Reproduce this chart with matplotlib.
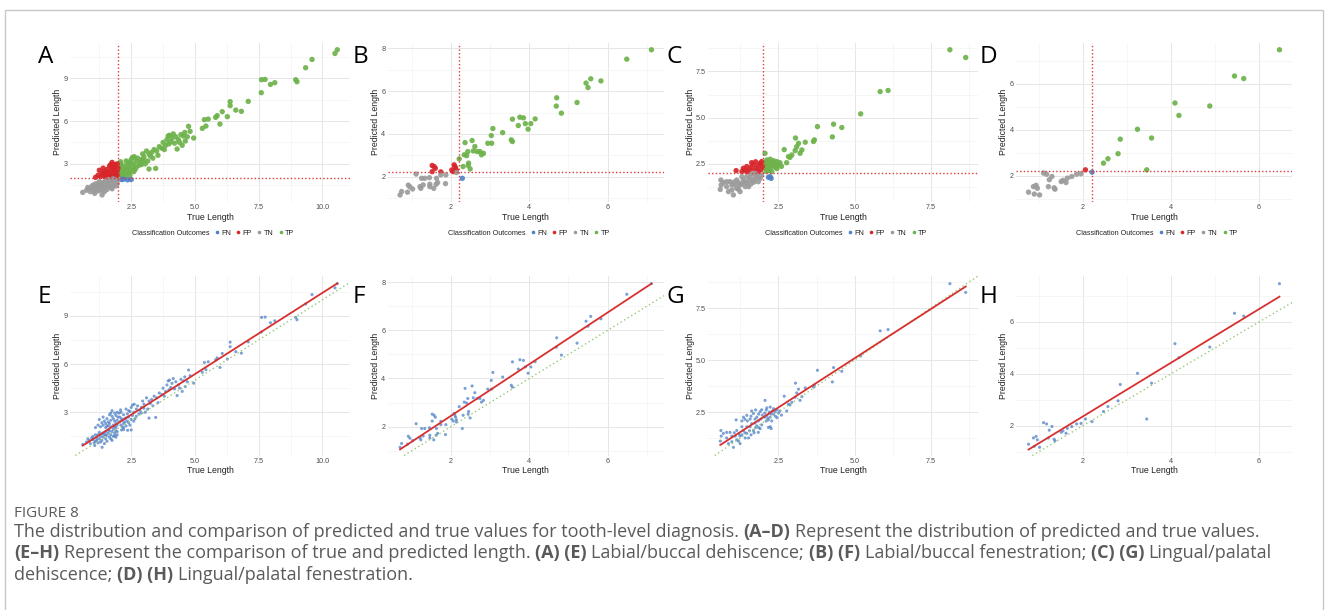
import numpy as np
import matplotlib
matplotlib.use("Agg")
import matplotlib.pyplot as plt
from matplotlib.lines import Line2D
from matplotlib.patches import Rectangle
from matplotlib.ticker import MultipleLocator, FormatStrFormatter

W, H = 1328, 610
DPI = 100

# (true length, predicted length)
# labial/buccal dehiscence -> panels A, E
LB_DEH = [
    (10.58, 11.0), (10.49, 10.74), (9.59, 10.32), (9.34, 9.74), (8.95, 8.9),
    (9.0, 8.76), (8.13, 8.69), (7.96, 8.57), (7.61, 8.9), (7.75, 8.92),
    (7.60, 7.99), (7.09, 7.38), (6.82, 6.68), (6.6, 6.77), (6.38, 7.36),
    (6.38, 7.08), (6.27, 6.31), (6.07, 6.66), (5.87, 6.38), (5.81, 6.26),
    (5.98, 5.79), (5.52, 6.14), (5.37, 6.1), (5.43, 5.65), (5.29, 5.49),
    (4.95, 4.81), (4.81, 5.28), (4.75, 5.63), (4.70, 4.9), (4.55, 4.95),
    (4.45, 5.05), (4.62, 4.6), (4.35, 4.7), (4.25, 4.9), (4.15, 5.1),
    (4.1, 4.8), (4.05, 4.55), (3.98, 4.4), (3.9, 4.7), (4.2, 4.45),
    (4.3, 4.04), (4.5, 4.3), (3.85, 4.3), (3.75, 4.5), (4.0, 5.0),
    (3.7, 4.1), (3.6, 4.2), (3.5, 3.9), (3.4, 4.0), (3.3, 3.8),
    (3.2, 3.7), (3.55, 3.6), (3.1, 3.9), (3.0, 3.5), (3.35, 3.4),
    (2.95, 3.7), (2.9, 3.3), (3.15, 3.2), (2.85, 3.1), (2.75, 3.4),
    (3.46, 2.68), (3.2, 2.64), (3.05, 3.0), (2.7, 3.2), (2.6, 3.0),
    (2.55, 2.8), (2.5, 3.3), (2.45, 3.05), (2.4, 2.7), (2.35, 2.9),
    (2.3, 3.2), (2.25, 2.6), (2.2, 2.85), (2.15, 2.5), (2.1, 3.0),
    (2.05, 2.7), (2.6, 2.45), (2.4, 2.35), (2.2, 2.3), (2.1, 2.2),
    (2.3, 2.15), (2.65, 2.6), (2.8, 2.9), (2.5, 2.55), (2.35, 2.45),
    (2.05, 2.4), (2.15, 2.1), (2.25, 2.4), (2.45, 2.2), (2.55, 3.45),
    (2.7, 2.75), (2.9, 2.95), (2.12, 2.6), (2.3, 2.65), (2.02, 2.95),
    (2.08, 3.15), (2.62, 3.5), (3.0, 3.25), (3.25, 3.55), (3.8, 4.0),
    (4.4, 4.5), (4.6, 5.2), (3.95, 4.95), (2.4, 3.1), (2.2, 2.05),
    (2.12, 1.9), (2.36, 1.88), (2.5, 1.9), (2.2, 1.92),
    (1.95, 3.0), (1.9, 2.8), (1.85, 2.95), (1.8, 2.6), (1.75, 2.75),
    (1.7, 2.5), (1.65, 2.85), (1.6, 2.4), (1.55, 2.6), (1.5, 2.3),
    (1.45, 2.45), (1.4, 2.2), (1.35, 2.35), (1.3, 2.1), (1.25, 2.55),
    (1.9, 2.3), (1.8, 2.2), (1.7, 2.1), (1.6, 2.15), (1.95, 2.5),
    (1.85, 2.1), (1.5, 2.05), (1.2, 2.2), (1.1, 2.05), (1.4, 2.7),
    (1.75, 3.1), (1.9, 2.05), (1.65, 2.3), (1.85, 2.45), (1.95, 2.2),
    (1.55, 2.15), (1.7, 2.95), (1.98, 2.7),
    (0.6, 1.0), (0.75, 1.15), (0.85, 1.25), (0.9, 1.05), (1.0, 1.3),
    (1.07, 0.93), (1.1, 1.2), (1.15, 1.4), (1.2, 1.1), (1.25, 1.35),
    (1.3, 1.5), (1.36, 0.82), (1.35, 1.25), (1.4, 1.45), (1.45, 1.6),
    (1.5, 1.35), (1.55, 1.55), (1.6, 1.7), (1.65, 1.45), (1.7, 1.6),
    (1.75, 1.8), (1.8, 1.5), (1.85, 1.7), (1.9, 1.85), (1.95, 1.6),
    (1.0, 1.5), (1.2, 1.6), (1.4, 1.7), (1.6, 1.9), (1.8, 1.95),
    (1.5, 1.8), (0.95, 1.4), (1.3, 1.15), (1.7, 1.35), (1.9, 1.45),
    (1.1, 1.6), (1.45, 1.05), (1.25, 1.75), (1.55, 1.2), (1.75, 1.25),
    (0.8, 1.35), (1.05, 1.1), (1.35, 1.65), (1.65, 1.85), (1.85, 1.55),
    (1.95, 1.8), (1.15, 1.25), (1.5, 1.6),
]

# labial/buccal fenestration -> panels B, F
LB_FEN = [
    (7.12, 7.94), (6.49, 7.5), (5.45, 6.38), (5.57, 6.58), (5.5, 6.17),
    (5.83, 6.48), (5.22, 5.47), (4.70, 5.69), (4.69, 5.30), (4.82, 4.97),
    (3.76, 4.78), (3.85, 4.75), (3.72, 4.39), (3.90, 4.48), (3.97, 4.22),
    (4.04, 4.48), (4.15, 4.70), (3.57, 4.69), (3.54, 3.72), (3.57, 3.64),
    (3.32, 4.06), (3.07, 4.25), (3.03, 3.92), (3.04, 3.56), (2.94, 3.56),
    (2.83, 3.09), (2.78, 3.02), (2.74, 3.17), (2.67, 3.17), (2.61, 3.41),
    (2.57, 3.2), (2.54, 3.69), (2.43, 3.17), (2.36, 3.59), (2.34, 3.02),
    (2.40, 2.98), (2.45, 2.63), (2.49, 2.36), (2.31, 2.47), (2.21, 2.83),
    (2.44, 2.52),
    (1.52, 2.52), (1.57, 2.47), (1.6, 2.39), (1.52, 2.23), (1.74, 2.22),
    (2.02, 2.31), (2.08, 2.55), (2.1, 2.47), (2.12, 2.39), (2.06, 2.23),
    (2.14, 2.28),
    (2.29, 1.92),
    (2.14, 2.19), (1.11, 2.12), (1.25, 1.92), (1.33, 1.92), (1.45, 1.95),
    (1.63, 1.92), (1.74, 2.08), (1.87, 2.08), (1.46, 1.64), (1.62, 1.64),
    (1.86, 1.67), (0.91, 1.60), (0.95, 1.52), (1.02, 1.42), (0.89, 1.27),
    (0.74, 1.30), (0.70, 1.14), (1.21, 1.53), (1.29, 1.61), (1.23, 1.45),
    (1.46, 1.53), (1.56, 1.45), (1.66, 1.72),
]

# lingual/palatal dehiscence -> panels C, G
LP_DEH = [
    (8.13, 8.68), (8.65, 8.26), (5.84, 6.41), (6.1, 6.47), (5.2, 5.2),
    (4.31, 4.64), (4.58, 4.46), (4.27, 3.95), (3.78, 4.51), (3.65, 3.7),
    (3.68, 3.79), (3.38, 3.66), (3.06, 3.89), (3.16, 3.6), (3.1, 3.42),
    (3.27, 3.24), (3.21, 3.06), (3.05, 3.21), (2.94, 2.97), (2.88, 2.84),
    (2.83, 2.88), (2.69, 3.26), (2.77, 2.55), (2.55, 2.55), (2.45, 2.61),
    (2.34, 2.66), (2.23, 2.74), (2.12, 2.70), (2.06, 3.06), (2.12, 2.34),
    (2.23, 2.25), (2.34, 2.39), (2.39, 2.52), (2.17, 2.12), (2.28, 2.07),
    (2.45, 2.23), (2.1, 2.07), (2.6, 2.35), (2.2, 2.5), (2.05, 2.45),
    (2.3, 2.55), (2.15, 2.2), (2.4, 2.3), (2.05, 2.25), (2.25, 2.4),
    (2.5, 2.45), (2.1, 2.6),
    (2.17, 1.76), (2.26, 1.70), (2.23, 1.79),
    (1.11, 2.12), (1.35, 2.25), (1.46, 2.34), (1.57, 2.16), (1.68, 2.43),
    (1.79, 2.25), (1.9, 2.52), (1.95, 2.61), (1.84, 2.07), (1.62, 2.55),
    (1.73, 2.16), (1.48, 2.07), (1.92, 2.16), (1.3, 2.07), (1.85, 2.4),
    (1.6, 2.3), (1.75, 2.6), (1.97, 2.35), (1.4, 2.15),
    (0.61, 1.61), (0.62, 1.34), (0.59, 1.1), (0.8, 1.25), (0.86, 0.98),
    (1.02, 0.8), (0.97, 1.07), (1.19, 1.1), (1.24, 1.34), (1.13, 1.61),
    (1.35, 1.61), (1.46, 1.47), (1.57, 1.79), (1.68, 1.61), (1.79, 1.83),
    (1.9, 1.7), (1.41, 1.25), (1.52, 1.25), (1.08, 1.34), (0.91, 1.52),
    (0.8, 1.52), (1.3, 1.79), (1.73, 1.97), (1.62, 1.94), (1.95, 1.88),
    (1.84, 1.52), (1.24, 0.98), (1.46, 1.79), (0.69, 1.47), (0.97, 1.34),
    (1.13, 1.16), (1.6, 1.4), (1.75, 1.75), (1.4, 1.5), (1.2, 1.45),
    (1.05, 1.5), (1.3, 1.4), (1.55, 1.6), (1.85, 1.75), (1.7, 1.5),
]

# lingual/palatal fenestration -> panels D, H
LP_FEN = [
    (6.46, 7.47), (5.44, 6.33), (5.65, 6.22), (4.88, 5.03), (4.09, 5.16),
    (4.18, 4.62), (3.24, 4.02), (3.56, 3.64), (2.85, 3.59), (2.80, 2.96),
    (2.57, 2.74), (2.47, 2.55), (3.45, 2.26),
    (2.06, 2.26),
    (2.21, 2.16),
    (0.77, 1.29), (0.90, 1.21), (1.02, 1.17), (0.88, 1.53), (0.94, 1.59),
    (0.97, 1.46), (1.11, 2.12), (1.18, 2.07), (1.24, 1.83), (1.30, 1.97),
    (1.22, 1.53), (1.37, 1.42), (1.35, 1.48), (1.51, 1.75), (1.55, 1.80),
    (1.65, 1.90), (1.62, 1.71), (1.75, 1.97), (1.86, 2.07), (1.96, 2.09),
]

THRESHOLDS = [2.0, 2.2, 2.0, 2.2]
OUTCOMES = ["FN", "FP", "TN", "TP"]
OUTCOME_COLORS = {"FN": "#4F81C7", "FP": "#D7262B", "TN": "#9B9B9B", "TP": "#6DB24A"}

TOP_LABELS = ["A", "B", "C", "D"]
BOTTOM_LABELS = ["E", "F", "G", "H"]

# layout, in pixels of the output picture
COL_X = [(70, 350), (387.5, 664), (708, 978), (1016, 1292)]
TOP_Y = (42.5, 202.2)
BOT_Y = (275.5, 455.5)
LABEL_X = [38, 353, 667, 980]
TICK_STEP = [(2.5, 3), (2, 2), (2.5, 2.5), (2, 2)]
TICK_FMT = [("%.1f", "%d"), ("%d", "%d"), ("%.1f", "%.1f"), ("%d", "%d")]

TICK_COLOR = "#4D4D4D"
TITLE_COLOR = "#222222"
PLOT_FONT = "Liberation Sans"


def px_axes(fig, x0, x1, y0, y1):
    return fig.add_axes([x0 / W, 1 - y1 / H, (x1 - x0) / W, (y1 - y0) / H])


def ggplot_limits(v):
    lo, hi = np.min(v), np.max(v)
    pad = 0.05 * (hi - lo)
    return lo - pad, hi + pad


def style_axes(ax, xlim, ylim, xstep, ystep, xfmt, yfmt):
    ax.set_xlim(xlim)
    ax.set_ylim(ylim)
    ax.xaxis.set_major_locator(MultipleLocator(xstep))
    ax.xaxis.set_minor_locator(MultipleLocator(xstep / 2))
    ax.yaxis.set_major_locator(MultipleLocator(ystep))
    ax.yaxis.set_minor_locator(MultipleLocator(ystep / 2))
    ax.xaxis.set_major_formatter(FormatStrFormatter(xfmt))
    ax.yaxis.set_major_formatter(FormatStrFormatter(yfmt))
    ax.grid(True, which="major", color="#E6E6E6", linewidth=0.7)
    ax.grid(True, which="minor", color="#F3F3F3", linewidth=0.5)
    ax.set_axisbelow(True)
    for s in ax.spines.values():
        s.set_visible(False)
    ax.tick_params(which="both", length=0, pad=1.5, labelsize=5.2,
                   labelcolor=TICK_COLOR)
    for lab in ax.get_xticklabels() + ax.get_yticklabels():
        lab.set_family(PLOT_FONT)
    ax.set_xlabel("True Length", fontsize=6.3, color=TITLE_COLOR,
                  family=PLOT_FONT, labelpad=1)
    ax.set_ylabel("Predicted Length", fontsize=6.3, color=TITLE_COLOR,
                  family=PLOT_FONT, labelpad=1)


def classify(t, p, thr):
    out = np.where(t >= thr, np.where(p >= thr, "TP", "FN"),
                   np.where(p >= thr, "FP", "TN"))
    return out


fig = plt.figure(figsize=(W / DPI, H / DPI), dpi=DPI)
fig.patch.set_facecolor("white")

# thin frame around the figure block
fig.patches.append(Rectangle((5 / W, -0.1), 1318 / W, 1 - 10 / H + 0.1,
                             transform=fig.transFigure, fill=False,
                             edgecolor="#C8C8C8", linewidth=1.0))

datasets = [LB_DEH, LB_FEN, LP_DEH, LP_FEN]

for i, data in enumerate(datasets):
    pts = np.array(data)
    true, pred = pts[:, 0], pts[:, 1]
    xlim = ggplot_limits(true)
    ylim = ggplot_limits(pred)
    thr = THRESHOLDS[i]
    x0, x1 = COL_X[i]
    xstep, ystep = TICK_STEP[i]
    xfmt, yfmt = TICK_FMT[i]

    # top row: classification outcomes
    ax = px_axes(fig, x0, x1, *TOP_Y)
    style_axes(ax, xlim, ylim, xstep, ystep, xfmt, yfmt)
    cls = classify(true, pred, thr)
    colors = [OUTCOME_COLORS[c] for c in cls]
    ax.scatter(true, pred, s=15, c=colors, edgecolors="none", alpha=0.92,
               zorder=2)
    ax.axvline(thr, color="#E0393B", linewidth=1.0, linestyle=(0, (1, 1.6)),
               zorder=3)
    ax.axhline(thr, color="#E0393B", linewidth=1.0, linestyle=(0, (1, 1.6)),
               zorder=3)

    handles = [Line2D([], [], linestyle="none", label="Classification Outcomes")]
    for name in OUTCOMES:
        handles.append(Line2D([], [], linestyle="none", marker="o",
                              markersize=2.6, markeredgewidth=0,
                              color=OUTCOME_COLORS[name], label=name))
    leg = ax.legend(handles=handles, ncol=5, loc="center",
                    bbox_to_anchor=(0.5, -31 / (TOP_Y[1] - TOP_Y[0])),
                    frameon=False, handlelength=0.6, handletextpad=0.3,
                    columnspacing=0.7, borderaxespad=0,
                    prop={"family": PLOT_FONT, "size": 5.2})
    for t in leg.get_texts():
        t.set_color(TITLE_COLOR)

    fig.text(LABEL_X[i] / W, 1 - 63 / H, TOP_LABELS[i], fontsize=17.5,
             family="Open Sans", color="black", ha="left", va="baseline")

    # bottom row: true vs predicted comparison
    ax = px_axes(fig, x0, x1, *BOT_Y)
    style_axes(ax, xlim, ylim, xstep, ystep, xfmt, yfmt)
    ax.scatter(true, pred, s=5, color="#4F81C7", edgecolors="none",
               alpha=0.75, zorder=2)
    ax.axline((0, 0), slope=1, color="#96C878", linewidth=1.0,
              linestyle=(0, (1, 2)), zorder=3)
    slope, intercept = np.polyfit(true, pred, 1)
    xs = np.array([true.min(), true.max()])
    ax.plot(xs, slope * xs + intercept, color="#D7302F", linewidth=1.3,
            zorder=4)

    fig.text(LABEL_X[i] / W, 1 - 303 / H, BOTTOM_LABELS[i], fontsize=17.5,
             family="Open Sans", color="black", ha="left", va="baseline")

# caption
CAP_FONT = "Open Sans"
CAP_COLOR = "#5A5A5A"
CAPTION_LINES = [
    [("The distribution and comparison of predicted and true values for "
      "tooth-level diagnosis. ", False), ("(A\u2013D)", True),
     (" Represent the distribution of predicted and true values.", False)],
    [("(E\u2013H)", True),
     (" Represent the comparison of true and predicted length. ", False),
     ("(A) (E)", True), (" Labial/buccal dehiscence; ", False),
     ("(B) (F)", True), (" Labial/buccal fenestration; ", False),
     ("(C) (G)", True), (" Lingual/palatal", False)],
    [("dehiscence; ", False), ("(D) (H)", True),
     (" Lingual/palatal fenestration.", False)],
]
CAPTION_BASELINES = [537, 558, 580]
CAP_X0 = 14
CAP_LINE1_END = 1264

renderer = fig.canvas.get_renderer()


def text_width(s, size, bold):
    t = fig.text(0, 0, s, fontsize=size, family=CAP_FONT,
                 fontweight="bold" if bold else "normal")
    w = t.get_window_extent(renderer).width
    t.remove()
    return w


def draw_runs(x, y, runs, size, draw=True):
    space = text_width("a a", size, False) - text_width("aa", size, False)
    for s, bold in runs:
        core = s.strip(" ")
        lead = len(s) - len(s.lstrip(" "))
        trail = len(s) - len(s.rstrip(" "))
        x += lead * space
        w = text_width(core, size, bold)
        if draw:
            fig.text(x / W, 1 - y / H, core, fontsize=size, family=CAP_FONT,
                     fontweight="bold" if bold else "normal", color=CAP_COLOR,
                     ha="left", va="baseline")
        x += w + trail * space
    return x


base = 11.0
end = draw_runs(CAP_X0, 0, CAPTION_LINES[0], base, draw=False)
cap_size = base * (CAP_LINE1_END - CAP_X0) / (end - CAP_X0)

fig.text(CAP_X0 / W, 1 - 517 / H, "FIGURE 8", fontsize=cap_size * 0.85,
         family=CAP_FONT, color=CAP_COLOR, ha="left", va="baseline")
for runs, yb in zip(CAPTION_LINES, CAPTION_BASELINES):
    draw_runs(CAP_X0, yb, runs, cap_size)

fig.savefig("out.png", dpi=DPI, facecolor="white")
